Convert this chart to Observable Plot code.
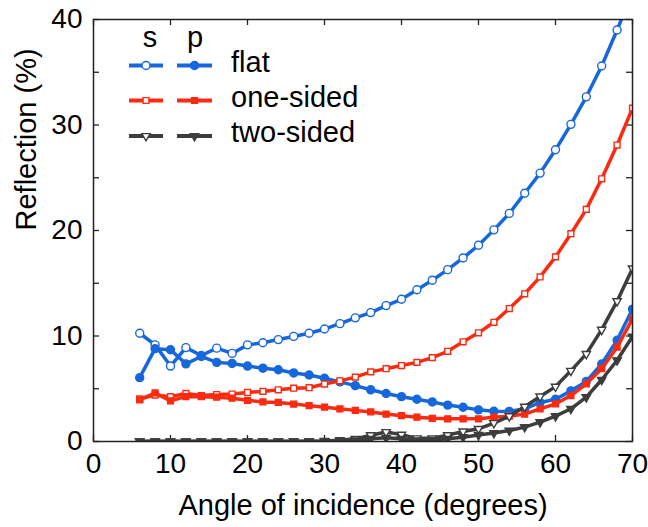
<!DOCTYPE html>
<html><head><meta charset="utf-8">
<script src="https://cdn.jsdelivr.net/npm/d3@7"></script>
<script src="https://cdn.jsdelivr.net/npm/@observablehq/plot@0.6"></script>
<style>
body{margin:0;background:#fff}
#chart{width:648px;height:527px}
</style>
</head><body><div id="chart"></div>
<script>
// ---- data ----
const angles = [6,8,10,12,14,16,18,20,22,24,26,28,30,32,34,36,38,40,42,44,46,48,50,52,54,56,58,60,62,64,66,68,70];
const flatS = [10.26,9.16,7.15,8.9,8.15,8.85,8.35,9.16,9.36,9.66,9.96,10.26,10.66,11.17,11.72,12.22,12.88,13.48,14.38,15.29,16.29,17.4,18.6,20.06,21.62,23.53,25.44,27.65,30.06,32.67,35.59,39.0,42.6];
const flatP = [6.05,8.8,8.7,7.36,8.06,7.5,7.4,7.15,6.95,6.8,6.5,6.3,6.0,5.65,5.3,4.9,4.55,4.25,4.0,3.75,3.45,3.25,3.0,2.87,2.85,3.1,3.7,4.0,4.8,5.7,7.35,9.6,12.55];
const oneS = [4.05,4.4,4.25,4.55,4.35,4.45,4.5,4.65,4.75,4.9,5.05,5.1,5.45,5.75,6.1,6.6,6.9,7.2,7.5,7.95,8.55,9.45,10.3,11.3,12.6,14.0,15.6,17.5,19.7,22.0,24.9,28.1,31.6];
const oneP = [3.95,4.6,3.85,4.25,4.25,4.2,4.1,3.9,3.75,3.7,3.55,3.4,3.25,3.1,2.95,2.8,2.6,2.45,2.3,2.2,2.15,2.15,2.15,2.3,2.4,2.6,3.1,3.57,4.36,5.47,6.9,8.94,11.63];
const twoS = [0.02,0.02,0.02,0.02,0.02,0.02,0.02,0.02,0.02,0.02,0.02,0.02,0.05,0.12,0.25,0.6,0.9,0.65,0.3,0.3,0.6,0.95,1.2,1.75,2.4,3.3,4.27,5.2,6.7,8.3,10.6,13.3,16.4];
const twoP = [0.01,0.01,0.01,0.01,0.01,0.01,0.01,0.01,0.01,0.01,0.01,0.01,0.02,0.04,0.1,0.25,0.35,0.25,0.1,0.15,0.25,0.41,0.62,0.8,1.04,1.36,1.83,2.4,3.1,4.2,5.85,7.7,9.95];

const xTicks = [0,10,20,30,40,50,60,70];
const yLabelTicks = [0,10,20,30,40];
const yMinorTicks = [0,5,10,15,20,25,30,35,40];

const seriesNames = ["flat","one-sided","two-sided"];
const polNames = ["s","p"];
const colors = {"flat":"#1767dc","one-sided":"#fb2a10","two-sided":"#3d3d3d"};

// down-pointing triangle symbol
const triDown = {draw(ctx, size){
  const a = Math.sqrt(size*4/Math.sqrt(3)), h = a*Math.sqrt(3)/2;
  ctx.moveTo(-a/2, -h/3); ctx.lineTo(a/2, -h/3); ctx.lineTo(0, 2*h/3); ctx.closePath();
}};
const symbols = {"flat":"circle","one-sided":"square","two-sided":triDown};
const radii = {"flat":4,"one-sided":3.3,"two-sided":3.1};

const seriesData = [
  {name:"flat", pol:"s", values:flatS},
  {name:"flat", pol:"p", values:flatP},
  {name:"one-sided", pol:"s", values:oneS},
  {name:"one-sided", pol:"p", values:oneP},
  {name:"two-sided", pol:"s", values:twoS},
  {name:"two-sided", pol:"p", values:twoP}
];

const W = 648, H = 527, mL = 93, mR = 16, mT = 19, mB = 86;
const plotW = W - mL - mR, plotH = H - mT - mB;
const tickLen = 6;

const seriesMarks = seriesData.flatMap(s => {
  const rows = angles.map((a,i) => ({angle:a, value:s.values[i]}));
  const c = colors[s.name];
  return [
    Plot.line(rows, {x:"angle", y:"value", stroke:c, strokeWidth:3.5, clip:true}),
    Plot.dot(rows, {x:"angle", y:"value", symbol:symbols[s.name], r:radii[s.name],
      stroke:c, strokeWidth:1.4, fill: s.pol === "s" ? "white" : c, clip:true})
  ];
});

const chart = Plot.plot({
  width: W, height: H,
  marginLeft: mL, marginRight: mR, marginTop: mT, marginBottom: mB,
  style: {fontFamily: "'Liberation Sans', Arial, Helvetica, sans-serif", fontSize: "28px", color: "#000", background: "#fff"},
  x: {domain: [0,70]},
  y: {domain: [0,40]},
  marks: [
    Plot.axisX({ticks: xTicks, tickSize: 0, tickPadding: 12, label: null, fontSize: 28}),
    Plot.axisY({ticks: yLabelTicks, tickSize: 0, tickPadding: 11, label: null, fontSize: 28}),
    Plot.tickX(xTicks, {x: d => d, insetTop: plotH - tickLen, stroke: "#222", strokeWidth: 1.3}),
    Plot.tickX(xTicks, {x: d => d, insetBottom: plotH - tickLen, stroke: "#222", strokeWidth: 1.3}),
    Plot.tickY(yMinorTicks, {y: d => d, insetRight: plotW - tickLen, stroke: "#222", strokeWidth: 1.3}),
    Plot.tickY(yMinorTicks, {y: d => d, insetLeft: plotW - tickLen, stroke: "#222", strokeWidth: 1.3}),
    ...seriesMarks,
    Plot.frame({stroke: "#222", strokeWidth: 1.5}),
    Plot.text(["Angle of incidence (degrees)"], {frameAnchor: "bottom", dy: 73, fontSize: 29, fill: "#000"}),
    Plot.text(["Reflection (%)"], {frameAnchor: "left", dx: -67, rotate: -90, fontSize: 29, fill: "#000"})
  ]
});

document.getElementById("chart").appendChild(chart);

// ---- legend inside the plot area ----
const svg = d3.select(chart);
const lg = svg.append("g").attr("font-family", "'Liberation Sans', Arial, Helvetica, sans-serif").attr("font-size", 29);
const colX = {s: [129, 163, 146], p: [177, 212, 194.5]};
const headX = {s: 150, p: 195};
polNames.forEach(p => {
  lg.append("text").attr("x", headX[p]).attr("y", 47).attr("text-anchor", "middle").attr("fill", "#000").text(p);
});
const rowY = [65.5, 100.5, 136];
seriesNames.forEach((name, i) => {
  const y = rowY[i], c = colors[name];
  polNames.forEach(p => {
    const [x1, x2, xm] = colX[p];
    lg.append("line").attr("x1", x1).attr("x2", x2).attr("y1", y).attr("y2", y)
      .attr("stroke", c).attr("stroke-width", 3.8);
    const r = radii[name];
    const sym = d3.symbol().type(name === "flat" ? d3.symbolCircle : name === "one-sided" ? d3.symbolSquare : triDown).size(Math.PI * r * r);
    lg.append("path").attr("d", sym()).attr("transform", `translate(${xm},${y})`)
      .attr("fill", p === "s" ? "white" : c).attr("stroke", c).attr("stroke-width", 1.4);
  });
  lg.append("text").attr("x", 231).attr("y", y + 6).attr("text-anchor", "start").attr("fill", "#000").text(name);
});
</script>
</body></html>
